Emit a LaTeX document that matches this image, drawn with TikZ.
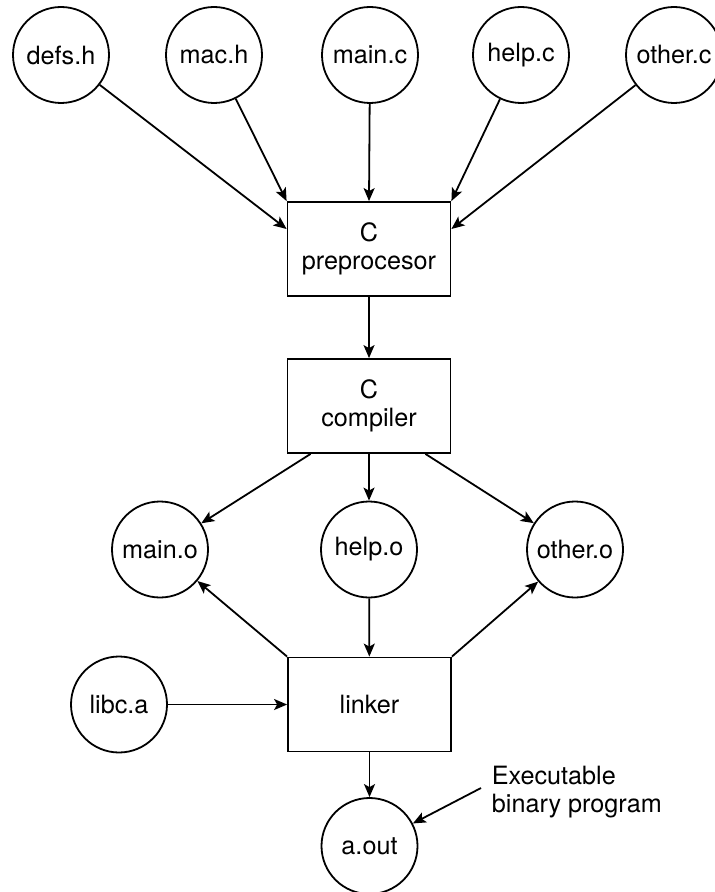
\documentclass[tikz,border=0pt]{standalone}
\usepackage{fontspec}
\setmainfont{TeX Gyre Heros}
\usetikzlibrary{arrows.meta}
\tikzset{
	file/.style={draw,circle,minimum size=48pt,inner sep=0pt},
	tool/.style={draw,rectangle,minimum width=81.5pt,minimum height=47pt,align=center,inner sep=0pt},
}
\begin{document}
\begin{tikzpicture}[x=5pt,y=-5pt,line width=0.9pt,>={Stealth[length=6.5pt,width=5.5pt,inset=1.5pt]},font=\fontsize{12.6}{14}\selectfont]
		\useasboundingbox (0,0) rectangle (71.5,89.2);
		\foreach \name/\x/\txt in {defs/6.1/defs.h,mac/21.4/mac.h,mainc/37/main.c,helpc/52.1/help.c,otherc/67.4/other.c}{
			\node[file] (\name) at (\x,5.5) {\txt};%sources
		}
		\node[tool] (pre) at (36.9,24.9) {C\\preprocesor};
		\node[tool] (comp) at (36.9,40.6) {C\\compiler};
		\node[file] (maino) at (16,54.95) {main.o};
		\node[file] (helpo) at (36.9,54.95) {help.o};
		\node[file] (othero) at (57.5,54.95) {other.o};
		\node[tool] (link) at (36.95,70.45) {linker};
		\node[file] (libc) at (11.9,70.45) {libc.a};
		\node[file] (aout) at (36.95,84.6) {a.out};
		\node[align=left,anchor=north west,inner sep=0pt] (exe) at (49.1,76.5) {Executable\\binary program};
		\coordinate (exetail) at (48.1,78.8);
		\draw[->] (defs) -- ([yshift=10pt]pre.west);
		\draw[->] (mac) -- (pre.north west);
		\draw[->] (mainc) -- (pre.north);
		\draw[->] (helpc) -- (pre.north east);
		\draw[->] (otherc) -- ([yshift=10pt]pre.east);
		\draw[->] (pre) -- (comp);
		\draw[->] ([xshift=12pt]comp.south west) -- (maino);
		\draw[->] (comp) -- (helpo);
		\draw[->] ([xshift=-13pt]comp.south east) -- (othero);
		\draw[->] (link.north west) -- (maino);
		\draw[->] (helpo) -- (link);
		\draw[->] (link.north east) -- (othero);
		\draw[->] (libc) -- (link);
		\draw[->] (link) -- (aout);
		\draw[->] (exetail) -- (aout);
\end{tikzpicture}
\end{document}
